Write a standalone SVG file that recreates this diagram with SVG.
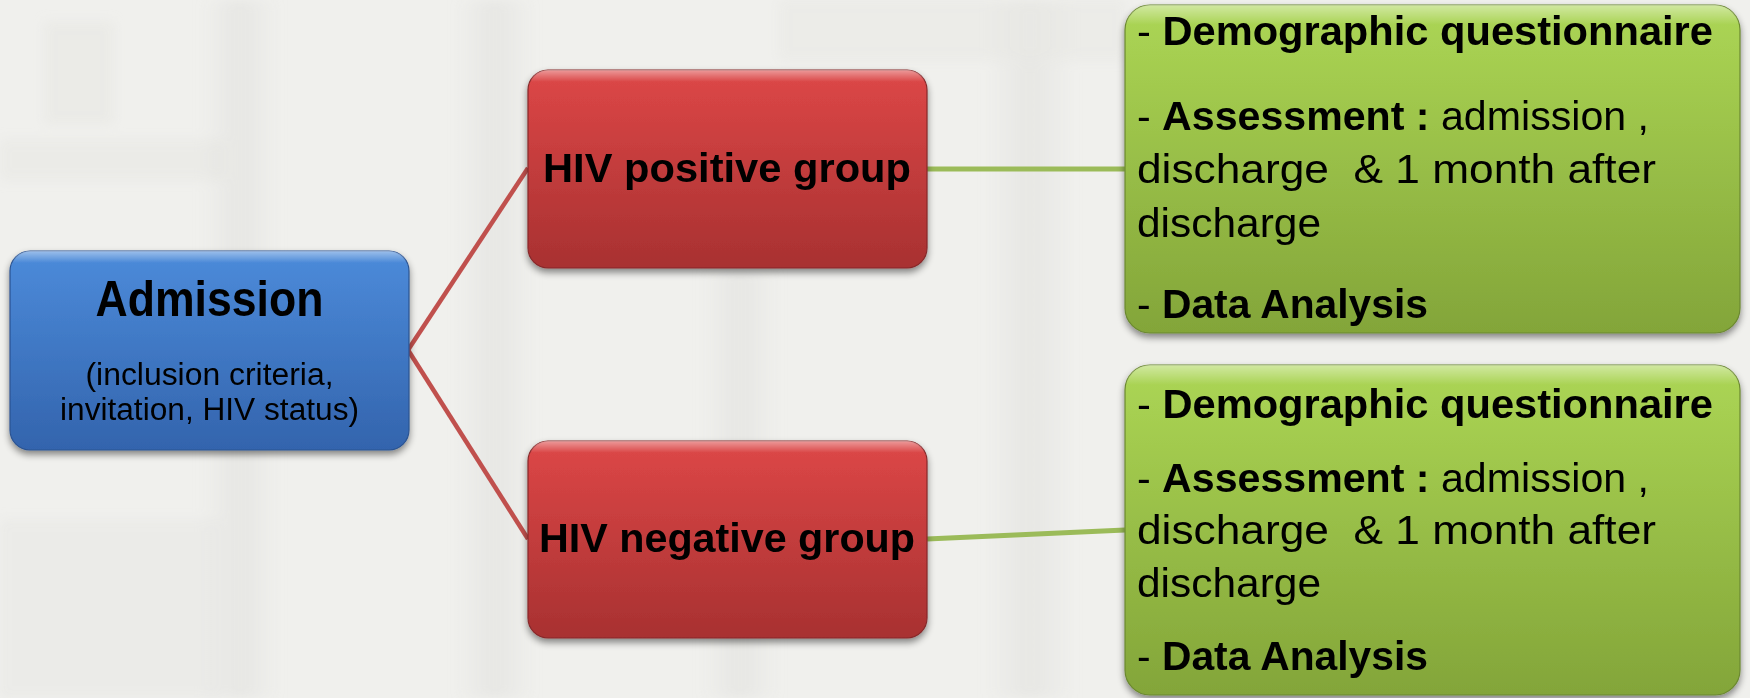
<svg xmlns="http://www.w3.org/2000/svg" width="1750" height="698" viewBox="0 0 1750 698">
  <defs>
    <linearGradient id="gBlue" x1="0" y1="0" x2="0" y2="1">
      <stop offset="0" stop-color="#4c8bda"/>
      <stop offset="1" stop-color="#3364ad"/>
    </linearGradient>
    <linearGradient id="gRed" x1="0" y1="0" x2="0" y2="1">
      <stop offset="0" stop-color="#dd4747"/>
      <stop offset="1" stop-color="#a83131"/>
    </linearGradient>
    <linearGradient id="gGreen" x1="0" y1="0" x2="0" y2="1">
      <stop offset="0" stop-color="#acd655"/>
      <stop offset="1" stop-color="#83a539"/>
    </linearGradient>
    <linearGradient id="gShine" x1="0" y1="0" x2="0" y2="1">
      <stop offset="0" stop-color="#ffffff" stop-opacity="0.45"/>
      <stop offset="0.06" stop-color="#ffffff" stop-opacity="0"/>
      <stop offset="1" stop-color="#ffffff" stop-opacity="0"/>
    </linearGradient>
    <linearGradient id="gCol" x1="0" y1="0" x2="1" y2="0">
      <stop offset="0" stop-color="#dcdcd9" stop-opacity="0"/>
      <stop offset="0.5" stop-color="#dcdcd9" stop-opacity="0.45"/>
      <stop offset="1" stop-color="#dcdcd9" stop-opacity="0"/>
    </linearGradient>
    <filter id="shadow" x="-10%" y="-10%" width="120%" height="130%">
      <feDropShadow dx="0" dy="4" stdDeviation="3.5" flood-color="#000000" flood-opacity="0.45"/>
    </filter>
    <filter id="soft" x="-5%" y="-5%" width="110%" height="110%">
      <feGaussianBlur stdDeviation="6"/>
    </filter>
    <style>
      .txt { font-family: "Liberation Sans", Arial, sans-serif; fill: #000000; }
      .b { font-weight: bold; }
      .blue { fill: url(#gBlue); stroke: #2b5391; stroke-width: 1.2; }
      .red { fill: url(#gRed); stroke: #86292a; stroke-width: 1.2; }
      .green { fill: url(#gGreen); stroke: #6b8830; stroke-width: 1.2; }
      .shine { fill: url(#gShine); stroke: none; }
      .linkRed { stroke: #c0504d; stroke-width: 4.5; fill: none; }
      .linkGreen { stroke: #9bbb59; stroke-width: 5; fill: none; }
    </style>
  </defs>

  <!-- faded building backdrop -->
  <rect x="0" y="0" width="1750" height="698" fill="#f0f0ed"/>
  <g id="backdrop" filter="url(#soft)">
    <rect x="45" y="22" width="68" height="102" fill="#e5e5e2" opacity="0.5"/>
    <rect x="0" y="140" width="225" height="40" fill="#e4e4e1" opacity="0.45"/>
    <rect x="200" y="0" width="80" height="698" fill="url(#gCol)"/>
    <rect x="455" y="0" width="80" height="698" fill="url(#gCol)"/>
    <rect x="700" y="270" width="80" height="428" fill="url(#gCol)"/>
    <rect x="985" y="0" width="90" height="698" fill="url(#gCol)"/>
    <rect x="780" y="0" width="345" height="60" fill="#e7e7e4" opacity="0.5"/>
    <rect x="0" y="520" width="220" height="178" fill="#e3e3e0" opacity="0.4"/>
  </g>

  <!-- connectors -->
  <g id="connectors">
    <path class="linkRed" d="M408,350 L528,168"/>
    <path class="linkRed" d="M408,350 L528,539"/>
    <path class="linkGreen" d="M927,169 L1125,169"/>
    <path class="linkGreen" d="M927,539 L1125,530"/>
  </g>

  <!-- admission node -->
  <g id="admission">
    <rect class="blue" x="10" y="251" width="399" height="199" rx="20" filter="url(#shadow)"/>
    <rect class="shine" x="10" y="251" width="399" height="199" rx="20"/>
    <text class="txt b" x="209.5" y="316" font-size="50" text-anchor="middle" textLength="228" lengthAdjust="spacingAndGlyphs">Admission</text>
    <text class="txt" x="209.5" y="385" font-size="31" text-anchor="middle" textLength="248" lengthAdjust="spacingAndGlyphs">(inclusion criteria,</text>
    <text class="txt" x="209.5" y="420" font-size="31" text-anchor="middle" textLength="299" lengthAdjust="spacingAndGlyphs">invitation, HIV status)</text>
  </g>

  <!-- HIV positive node -->
  <g id="hiv-positive">
    <rect class="red" x="528" y="70" width="399" height="198" rx="20" filter="url(#shadow)"/>
    <rect class="shine" x="528" y="70" width="399" height="198" rx="20"/>
    <text class="txt b" x="727" y="182" font-size="41" text-anchor="middle" textLength="368" lengthAdjust="spacingAndGlyphs">HIV positive group</text>
  </g>

  <!-- HIV negative node -->
  <g id="hiv-negative">
    <rect class="red" x="528" y="441" width="399" height="197" rx="20" filter="url(#shadow)"/>
    <rect class="shine" x="528" y="441" width="399" height="197" rx="20"/>
    <text class="txt b" x="727" y="552" font-size="41" text-anchor="middle" textLength="376" lengthAdjust="spacingAndGlyphs">HIV negative group</text>
  </g>

  <!-- positive group follow-up steps -->
  <g id="steps-positive">
    <rect class="green" x="1125" y="5" width="615" height="328" rx="25" filter="url(#shadow)"/>
    <rect class="shine" x="1125" y="5" width="615" height="328" rx="25"/>
    <text class="txt" x="1137" y="45" font-size="41" textLength="576" lengthAdjust="spacingAndGlyphs">- <tspan class="b">Demographic questionnaire</tspan></text>
    <text class="txt" x="1137" y="130" font-size="41" textLength="512" lengthAdjust="spacingAndGlyphs">- <tspan class="b">Assessment :</tspan> admission ,</text>
    <text class="txt" x="1137" y="183" font-size="41" textLength="519" lengthAdjust="spacingAndGlyphs" xml:space="preserve">discharge  &amp; 1 month after</text>
    <text class="txt" x="1137" y="237" font-size="41" textLength="184" lengthAdjust="spacingAndGlyphs">discharge</text>
    <text class="txt" x="1137" y="318" font-size="41" textLength="291" lengthAdjust="spacingAndGlyphs">- <tspan class="b">Data Analysis</tspan></text>
  </g>

  <!-- negative group follow-up steps -->
  <g id="steps-negative">
    <rect class="green" x="1125" y="365" width="615" height="330" rx="25" filter="url(#shadow)"/>
    <rect class="shine" x="1125" y="365" width="615" height="330" rx="25"/>
    <text class="txt" x="1137" y="418" font-size="41" textLength="576" lengthAdjust="spacingAndGlyphs">- <tspan class="b">Demographic questionnaire</tspan></text>
    <text class="txt" x="1137" y="492" font-size="41" textLength="512" lengthAdjust="spacingAndGlyphs">- <tspan class="b">Assessment :</tspan> admission ,</text>
    <text class="txt" x="1137" y="544" font-size="41" textLength="519" lengthAdjust="spacingAndGlyphs" xml:space="preserve">discharge  &amp; 1 month after</text>
    <text class="txt" x="1137" y="597" font-size="41" textLength="184" lengthAdjust="spacingAndGlyphs">discharge</text>
    <text class="txt" x="1137" y="670" font-size="41" textLength="291" lengthAdjust="spacingAndGlyphs">- <tspan class="b">Data Analysis</tspan></text>
  </g>
</svg>
